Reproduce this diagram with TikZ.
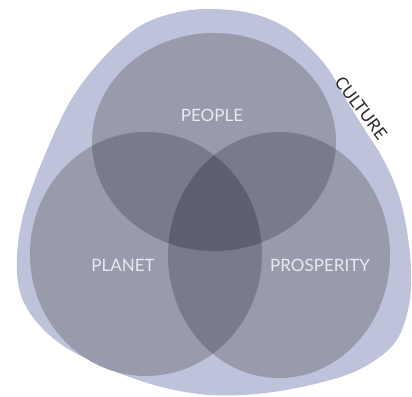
\documentclass[tikz,border=0pt]{standalone}
\usepackage{fontspec}
\setmainfont{Lato}
\definecolor{blobc}{HTML}{BEC2DB}
\definecolor{singc}{HTML}{989BAC}
\definecolor{dblc}{HTML}{787B8A}
\definecolor{tric}{HTML}{5D606E}
\definecolor{lblc}{HTML}{E8EAF2}
\definecolor{cultc}{HTML}{2A2A2E}
\begin{document}
\begin{tikzpicture}[x=1pt,y=-1pt,
  lbl/.style={text=lblc,font=\fontsize{17}{17}\selectfont,inner sep=0pt}]
\useasboundingbox (0,0) rectangle (412,396);
\def\peoplepath{(214,142) ellipse [x radius=122pt, y radius=109pt]}
\def\planetpath{(146,254) ellipse [x radius=116pt, y radius=122pt]}
\def\prosppath{(279,255) ellipse [x radius=111pt, y radius=123pt]}
% culture blob
\fill[blobc] plot[smooth cycle, tension=0.6] coordinates {
 (206,9) (170,14) (140,26) (113,48) (87,77) (67,107) (47,150) (33,185)
 (22,220) (17,257) (20,292) (35,320) (62,345) (100,365) (135,379) (170,389)
 (210,395) (256,394) (306,386) (356,371) (393,345) (408,310) (411,270)
 (406,225) (397,190) (382,157) (363,127) (345,98) (329,70) (310,48) (285,27) (250,13)};
% single circles
\fill[singc] \peoplepath;
\fill[singc] \planetpath;
\fill[singc] \prosppath;
% pairwise overlaps
\begin{scope}\clip \peoplepath; \fill[dblc] \planetpath; \end{scope}
\begin{scope}\clip \peoplepath; \fill[dblc] \prosppath; \end{scope}
\begin{scope}\clip \planetpath; \fill[dblc] \prosppath; \end{scope}
% triple overlap
\begin{scope}\clip \peoplepath; \clip \planetpath; \fill[tric] \prosppath; \end{scope}
% labels
\node[lbl] (people) at (212,115) {PEOPLE};
\node[lbl] (planet) at (123,265) {PLANET};
\node[lbl] (prosperity) at (320,265) {PROSPERITY};
\node[text=cultc,font=\fontsize{17}{17}\selectfont,inner sep=0pt,rotate=-53]
  (culture) at (361,108) {CULTURE};
\end{tikzpicture}
\end{document}
